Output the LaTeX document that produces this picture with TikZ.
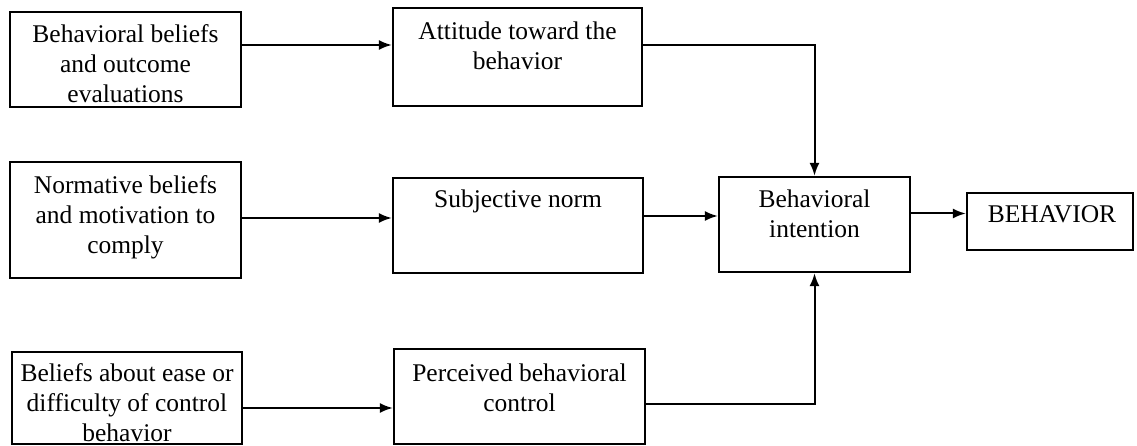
\documentclass[tikz,border=0pt]{standalone}
\usepackage{fontspec}
\setmainfont{Liberation Serif}
\usetikzlibrary{arrows.meta}

\tikzset{
  box/.style={draw, line width=0.045cm, inner sep=0pt},
  txt/.style={align=center, inner sep=0pt, font=\fontsize{14.5}{17}\selectfont},
  arr/.style={line width=0.04cm, -{Latex[length=0.26cm,width=0.2cm]}},
}

\begin{document}
\begin{tikzpicture}
\useasboundingbox (0,0) rectangle (22.74,8.92);

% Heights of the connectors
\coordinate (rowA) at (0,8.02);
\coordinate (rowB) at (0,4.56);
\coordinate (rowC) at (0,4.60);
\coordinate (rowD) at (0,4.65);
\coordinate (rowE) at (0,0.76);
\coordinate (rowF) at (0,0.84);

% Behavioral beliefs
\node [box, minimum width=4.62cm, minimum height=1.90cm] (bbel) at (2.51,7.73) {};
\node [txt] (bbeltxt) at (2.51,7.64) {Behavioral beliefs\\and outcome\\evaluations};

% Attitude
\node [box, minimum width=4.98cm, minimum height=1.96cm] (att) at (10.35,7.78) {};
\node [txt] (atttxt) at (10.35,8.00) {Attitude toward the\\behavior};

% Normative beliefs
\node [box, minimum width=4.62cm, minimum height=2.32cm] (nbel) at (2.51,4.52) {};
\node [txt] (nbeltxt) at (2.51,4.58) {Normative beliefs\\and motivation to\\comply};

% Subjective norm
\node [box, minimum width=5.00cm, minimum height=1.90cm] (norm) at (10.36,4.41) {};
\node [txt] (normtxt) at (10.36,4.90) {Subjective norm};

% Beliefs about control
\node [box, minimum width=4.60cm, minimum height=1.84cm] (cbel) at (2.54,0.96) {};
\node [txt] (cbeltxt) at (2.54,0.87) {Beliefs about ease or\\difficulty of control\\behavior};

% Perceived behavioral control
\node [box, minimum width=5.02cm, minimum height=1.90cm] (pbc) at (10.39,0.99) {};
\node [txt] (pbctxt) at (10.39,1.16) {Perceived behavioral\\control};

% Intention
\node [box, minimum width=3.82cm, minimum height=1.90cm] (intent) at (16.29,4.43) {};
\node [txt] (intenttxt) at (16.29,4.64) {Behavioral\\intention};

% Behavior
\node [box, minimum width=3.32cm, minimum height=1.14cm] (behav) at (21.00,4.49) {};
\node [txt] (behavtxt) at (21.04,4.63) {BEHAVIOR};

% Connectors
\draw [arr] (bbel.east |- rowA) -- (att.west |- rowA);
\draw [arr] (att.east |- rowA) -| (intent.north);
\draw [arr] (nbel.east |- rowB) -- (norm.west |- rowB);
\draw [arr] (norm.east |- rowC) -- (intent.west |- rowC);
\draw [arr] (intent.east |- rowD) -- (behav.west |- rowD);
\draw [arr] (cbel.east |- rowE) -- (pbc.west |- rowE);
\draw [arr] (pbc.east |- rowF) -| (intent.south);
\end{tikzpicture}
\end{document}
